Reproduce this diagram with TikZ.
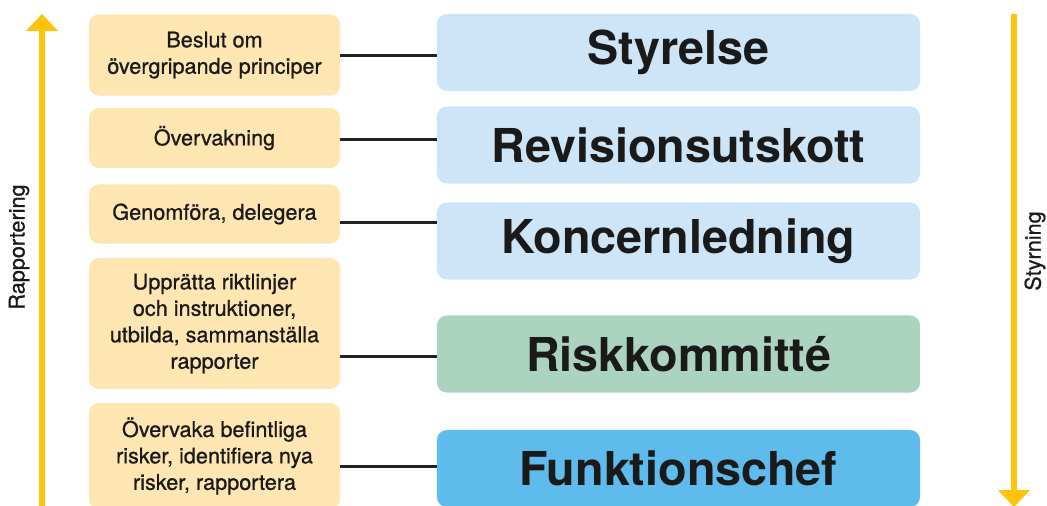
\documentclass[tikz,border=0pt]{standalone}
\usepackage{fontspec}
\setmainfont{TeX Gyre Heros}
\newfontfamily\medfont{TeX Gyre Heros}[FakeBold=0.8]
\usetikzlibrary{arrows.meta}

\definecolor{taskfill}{HTML}{FDE6B1}
\definecolor{boardfill}{HTML}{CDE5F7}
\definecolor{riskfill}{HTML}{ABD3BF}
\definecolor{chieffill}{HTML}{5FBBEC}
\definecolor{flowyellow}{HTML}{FFC30B}
\definecolor{linkgray}{HTML}{222222}
\definecolor{textblack}{HTML}{1A1A1A}

\begin{document}
\begin{tikzpicture}[
			x=0.025cm, y=-0.025cm,
			task/.style={
				rectangle,
				fill=taskfill,
				rounded corners=0.25cm,
				minimum width=6.275cm,
				inner sep=0pt,
				align=center,
				text=textblack,
				font=\medfont\fontsize{15.4}{18.8}\selectfont
			},
			body/.style={
				rectangle,
				rounded corners=0.25cm,
				minimum width=12.075cm,
				minimum height=1.925cm,
				text=textblack,
				font=\fontsize{33.2}{40}\selectfont\bfseries
			},
			link/.style={draw=linkgray, line width=0.075cm},
			flow/.style={-{Triangle[width=0.77cm,length=0.42cm]}, draw=flowyellow, line width=0.135cm},
			side/.style={rotate=90, text=textblack, font=\medfont\fontsize{15.4}{18.8}\selectfont}
			]
			
			\clip (0,0) rectangle (1047,506);
			
			% uppgifter
			\node (t1) [task, minimum height=2.025cm] at (214.5,55) {Beslut om\\övergripande principer};
			\node (t2) [task, minimum height=1.5cm] at (214.5,138) {Övervakning};
			\node (t3) [task, minimum height=1.475cm] at (214.5,214) {Genomföra, delegera};
			\node (t4) [task, minimum height=3.275cm] at (214.5,323.5) {Upprätta riktlinjer\\och instruktioner,\\utbilda, sammanställa\\rapporter};
			\node (t5) [task, minimum height=2.65cm] at (214.5,456) {Övervaka befintliga\\risker, identifiera nya\\risker, rapportera};
			
			% organ
			\node (b1) [body, fill=boardfill] at (678.5,52.5) {Styrelse};
			\node (b2) [body, fill=boardfill] at (678.5,145) {Revisionsutskott};
			\node (b3) [body, fill=boardfill] at (678.5,241) {Koncernledning};
			\node (b4) [body, fill=riskfill] at (678.5,354) {Riskkommitté};
			\node (b5) [body, fill=chieffill] at (678.5,468.5) {Funktionschef};
			
			\draw [link] (t1.east |- 0,55) -- (b1.west |- 0,55);
			\draw [link] (t2.east |- 0,139) -- (b2.west |- 0,139);
			\draw [link] (t3.east |- 0,222.7) -- (b3.west |- 0,222.7);
			\draw [link] (t4.east |- 0,356.7) -- (b4.west |- 0,356.7);
			\draw [link] (t5.east |- 0,466) -- (b5.west |- 0,466);
			
			% pilar
			\coordinate (up0) at (42,520);
			\coordinate (up1) at (42,14);
			\coordinate (down0) at (1014,14);
			\coordinate (down1) at (1014,507);
			\draw [flow] (up0) -- (up1);
			\draw [flow] (down0) -- (down1);
			
			\node (rep) [side] at (19,247) {Rapportering};
			\node (sty) [side] at (1035,251) {Styrning};
			
		\end{tikzpicture}
\end{document}
